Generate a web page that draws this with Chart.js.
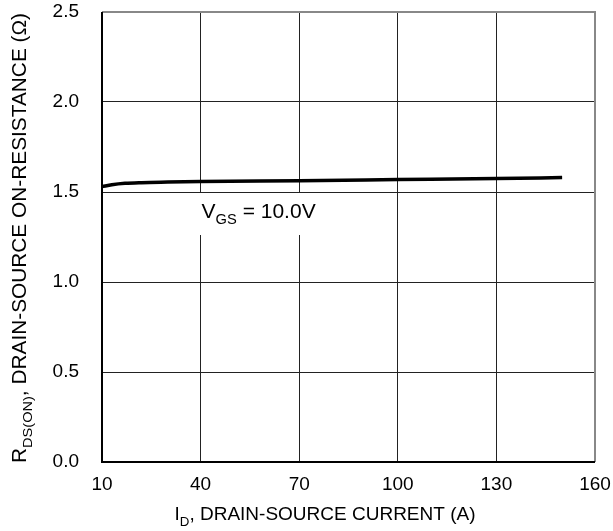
<!DOCTYPE html>
<html>
<head>
<meta charset="utf-8">
<style>
  html, body { margin: 0; padding: 0; background: #fff; }
  #wrap { width: 613px; height: 531px; }
</style>
</head>
<body>
<div id="wrap"><canvas id="myChart" width="613" height="531"></canvas></div>

<script src="https://cdn.jsdelivr.net/npm/chart.js"></script>

<script>
  // drain current (A) and on-resistance (ohm)
  const currentA = [10, 13, 17, 22, 30, 40, 70, 100, 130, 150];
  const rdsOn = [1.530, 1.540, 1.548, 1.552, 1.555, 1.558, 1.563, 1.569, 1.575, 1.580];
  const xTicks = [10, 40, 70, 100, 130, 160];
  const yTicks = [0.0, 0.5, 1.0, 1.5, 2.0, 2.5];

  const FONT = "'Liberation Sans', Arial, sans-serif";

  // text with a subscript part, drawn along the current baseline
  function subText(ctx, parts, size) {
    let w = 0;
    parts.forEach(p => {
      ctx.font = (p.sub ? size * 0.7 : size) + 'px ' + FONT;
      w += ctx.measureText(p.t).width;
    });
    return w;
  }
  function drawSubText(ctx, parts, x, y, size) {
    parts.forEach(p => {
      ctx.font = (p.sub ? size * 0.7 : size) + 'px ' + FONT;
      ctx.fillText(p.t, x, p.sub ? y + size * 0.3 : y);
      x += ctx.measureText(p.t).width;
    });
  }

  const extras = {
    id: 'extras',
    beforeDatasetsDraw(chart) {
      const {ctx, scales: {x, y}} = chart;
      ctx.save();
      // label box over the grid
      const lx = x.getPixelForValue(40) - 7;
      const ly = y.getPixelForValue(1.5) + 1;
      ctx.fillStyle = '#fff';
      ctx.fillRect(lx, ly, 130, 42);
      ctx.fillStyle = '#000';
      ctx.textBaseline = 'alphabetic';
      drawSubText(ctx, [{t: 'V'}, {t: 'GS', sub: true}, {t: ' = 10.0V'}], lx + 8, ly + 25, 21);
      ctx.restore();
    },
    afterDraw(chart) {
      const {ctx, chartArea: a} = chart;
      ctx.save();
      // gray frame on top and right
      ctx.strokeStyle = '#888';
      ctx.lineWidth = 2;
      ctx.beginPath();
      ctx.moveTo(a.left, a.top);
      ctx.lineTo(a.right, a.top);
      ctx.lineTo(a.right, a.bottom);
      ctx.stroke();
      ctx.strokeStyle = '#000';
      ctx.beginPath();
      ctx.moveTo(a.left, a.top);
      ctx.lineTo(a.left, a.bottom);
      ctx.lineTo(a.right, a.bottom);
      ctx.stroke();

      ctx.fillStyle = '#000';
      ctx.textBaseline = 'alphabetic';
      // x axis title
      const xp = [{t: 'I'}, {t: 'D', sub: true}, {t: ', DRAIN-SOURCE CURRENT (A)'}];
      const xw = subText(ctx, xp, 19);
      drawSubText(ctx, xp, 325 - xw / 2, 520, 19);
      // y axis title, a little stretched along its length like the original
      const yp = [{t: 'R'}, {t: 'DS(ON)', sub: true}, {t: ', DRAIN-SOURCE ON-RESISTANCE (\u03A9)'}];
      const yw = subText(ctx, yp, 19.5);
      ctx.translate(26, 463);
      ctx.rotate(-Math.PI / 2);
      ctx.scale(450 / yw, 1);
      drawSubText(ctx, yp, 0, 0, 19.5);
      ctx.restore();
    }
  };

  const ctx = document.getElementById('myChart');
  new Chart(ctx, {
    type: 'scatter',
    data: {
      datasets: [{
        data: currentA.map((v, i) => ({x: v, y: rdsOn[i]})),
        showLine: true,
        borderColor: '#000',
        borderWidth: 3.5,
        pointRadius: 0,
        cubicInterpolationMode: 'monotone'
      }]
    },
    options: {
      responsive: false,
      animation: false,
      layout: { padding: { top: 12, right: 18, left: 0, bottom: 0 } },
      plugins: { legend: { display: false }, tooltip: { enabled: false } },
      scales: {
        x: {
          type: 'linear', min: 10, max: 160,
          afterBuildTicks: s => { s.ticks = xTicks.map(v => ({value: v})); },
          afterFit: s => { s.height = 69; s.paddingLeft = 0; s.paddingRight = 0; },
          grid: { color: '#222', lineWidth: 1, drawTicks: false },
          border: { display: false },
          ticks: { color: '#000', padding: 11, font: { family: FONT, size: 19 } }
        },
        y: {
          min: 0, max: 2.5,
          afterBuildTicks: s => { s.ticks = yTicks.map(v => ({value: v})); },
          afterFit: s => { s.width = 102; s.paddingTop = 0; s.paddingBottom = 0; },
          grid: { color: '#222', lineWidth: 1, drawTicks: false },
          border: { display: false },
          ticks: { color: '#000', padding: 23, font: { family: FONT, size: 19 },
                   callback: v => v.toFixed(1) }
        }
      }
    },
    plugins: [extras]
  });
</script>
</body>
</html>
